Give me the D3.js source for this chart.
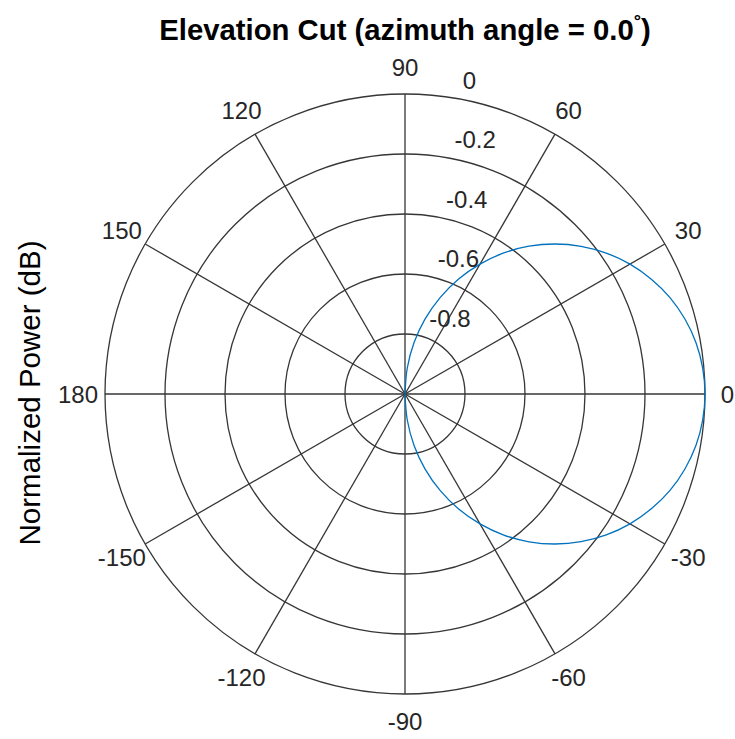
<!DOCTYPE html>
<html>
<head>
<meta charset="utf-8">
<script src="https://cdn.jsdelivr.net/npm/d3@7"></script>
<style>
  html, body { margin: 0; padding: 0; background: #fff; }
  svg { display: block; }
  text { font-family: "Liberation Sans", Arial, Helvetica, sans-serif; }
</style>
</head>
<body>
<svg id="chart" width="735" height="739"></svg>
<script>
// ---- data ----
const angleDeg = [-90,-85,-80,-75,-70,-65,-60,-55,-50,-45,-40,-35,-30,-25,-20,-15,-10,-5,0,
                  5,10,15,20,25,30,35,40,45,50,55,60,65,70,75,80,85,90];
const powerDb = [-1.000,-0.913,-0.826,-0.741,-0.658,-0.577,-0.500,-0.426,-0.357,-0.293,-0.234,-0.181,-0.134,-0.094,-0.060,-0.034,-0.015,-0.004,0.000,
                 -0.004,-0.015,-0.034,-0.060,-0.094,-0.134,-0.181,-0.234,-0.293,-0.357,-0.426,-0.500,-0.577,-0.658,-0.741,-0.826,-0.913,-1.000];
const radialTicks = [-0.8, -0.6, -0.4, -0.2, 0];
const radialTickLabels = ["-0.8", "-0.6", "-0.4", "-0.2", "0"];
const angleTicks = [0, 30, 60, 90, 120, 150, 180, -150, -120, -90, -60, -30];
const titleMain = "Elevation Cut (azimuth angle = 0.0";
const titleSup = "°";
const yLabel = "Normalized Power (dB)";

// ---- layout ----
const svg = d3.select("#chart");
const cx = 405, cy = 394, R = 300;
const W = 735;
const r = d3.scaleLinear().domain([-1, 0]).range([0, R]);
const toRad = d => d * Math.PI / 180;

const g = svg.append("g").attr("transform", `translate(${cx},${cy})`);
const gridColor = "#363636";

// spokes
const spokeAngles = d3.range(0, 360, 30);
g.selectAll("line.spoke").data(spokeAngles).join("line")
  .attr("class", "spoke")
  .attr("x1", 0).attr("y1", 0)
  .attr("x2", d => r(0) * Math.cos(toRad(d)))
  .attr("y2", d => -r(0) * Math.sin(toRad(d)))
  .attr("stroke", gridColor).attr("stroke-width", 1.3);

// circles
g.selectAll("circle.ring").data(radialTicks).join("circle")
  .attr("class", "ring")
  .attr("r", d => r(d))
  .attr("fill", "none")
  .attr("stroke", gridColor).attr("stroke-width", 1.3);

// data curve
const line = d3.lineRadial()
  .angle((d, i) => Math.PI / 2 - toRad(angleDeg[i]))
  .radius(d => r(d))
  .curve(d3.curveCatmullRom);
g.append("path")
  .datum(powerDb)
  .attr("d", line)
  .attr("fill", "none")
  .attr("stroke", "#0072BD")
  .attr("stroke-width", 1.3);

// angle labels
const labR = 327;
const angLabels = g.selectAll("text.ang").data(angleTicks).join("text")
  .attr("class", "ang")
  .attr("x", d => labR * Math.cos(toRad(d)))
  .attr("y", d => -labR * Math.sin(toRad(d)))
  .attr("text-anchor", "middle")
  .attr("dominant-baseline", "central")
  .attr("font-size", 24)
  .attr("fill", "#262626")
  .text(d => d);
// keep labels inside the window (the 0 label at the right edge)
angLabels.each(function() {
  const bb = this.getBBox();
  const over = cx + bb.x + bb.width - (W - 1);
  if (over > 0) d3.select(this).attr("x", +d3.select(this).attr("x") - over);
});

// radial labels (along ~82 deg)
const labAng = toRad(82);
g.selectAll("text.rad").data(radialTicks).join("text")
  .attr("class", "rad")
  .attr("x", d => r(d) * Math.cos(labAng) + 16)
  .attr("y", d => -r(d) * Math.sin(labAng) - 8)
  .attr("text-anchor", "start")
  .attr("font-size", 24)
  .attr("fill", "#262626")
  .text((d, i) => radialTickLabels[i]);

// title
const t = svg.append("text")
  .attr("x", cx).attr("y", 40)
  .attr("text-anchor", "middle")
  .attr("font-size", 24)
  .attr("font-weight", "bold")
  .attr("fill", "#000");
t.append("tspan").text(titleMain);
t.append("tspan").attr("class", "sup").attr("font-size", 15).attr("dy", -11).text(titleSup);
t.append("tspan").attr("class", "close").attr("dy", 11).text(")");
{
  const w = t.node().getBBox().width;
  const s = 24 * 492 / w;
  t.attr("font-size", s);
  t.select(".sup").attr("font-size", s * 0.62).attr("dy", -s * 0.45);
  t.select(".close").attr("dy", s * 0.45);
}

// y label
const yl = svg.append("text")
  .attr("transform", `translate(40,${cy - 1}) rotate(-90)`)
  .attr("text-anchor", "middle")
  .attr("font-size", 24)
  .attr("fill", "#000")
  .text(yLabel);
{
  const w = yl.node().getComputedTextLength();
  yl.attr("font-size", 24 * 305 / w);
}
</script>
</body>
</html>
